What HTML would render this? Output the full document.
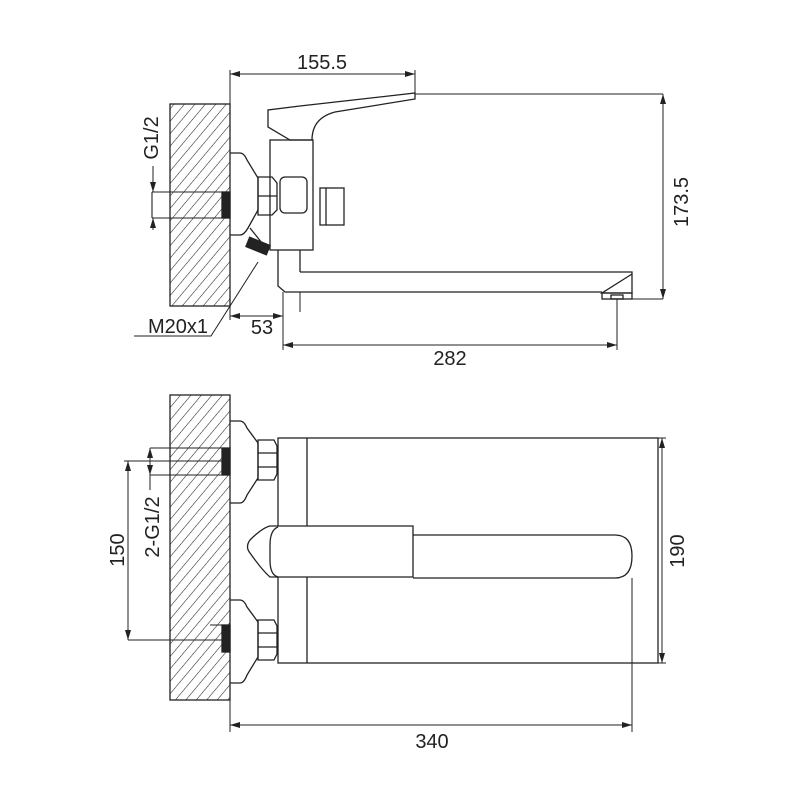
<!DOCTYPE html>
<html><head><style>html,body{margin:0;padding:0;background:#fff}svg{display:block}</style></head>
<body>
<svg width="800" height="800" viewBox="0 0 800 800" xmlns="http://www.w3.org/2000/svg" font-family="Liberation Sans, sans-serif">
<defs>
<pattern id="h" patternUnits="userSpaceOnUse" width="8" height="8" patternTransform="rotate(40)">
<line x1="0" y1="0" x2="0" y2="8" stroke="#222" stroke-width="1.1"/>
</pattern>
<marker id="a" viewBox="0 0 10 6" refX="10" refY="3" markerWidth="10" markerHeight="6" orient="auto-start-reverse" markerUnits="userSpaceOnUse"><path d="M0,0 L10,3 L0,6 Z" fill="#222"/></marker>
</defs>
<g fill="none" stroke="#222" stroke-width="1.3">
<!-- TOP VIEW -->
<rect x="170" y="104" width="60" height="202" fill="url(#h)"/>
<path d="M152,192 L224,192 M152,218 L224,218 M152,192 L152,218" stroke-width="1.1"/>
<rect x="222" y="192" width="8" height="26" fill="#222"/>
<path d="M230,153 L240,153 Q244,153 247,160 L258,178 L258,210 L248,228 Q244,235 240,235 L230,235"/>
<path d="M258,177 L272,177 L277,183 L277,210 L272,215 L258,215 Z M258,196 L277,196"/>
<rect x="270" y="140" width="43" height="110"/>
<rect x="280" y="177" width="27" height="36" rx="5"/>
<rect x="320" y="188" width="24" height="37"/><line x1="326" y1="188" x2="326" y2="225"/>
<path d="M268,110 L268,127 L290,140 L312,140 Q312,118 335,112 L415,99 L415,93 L300,106 L268,110 Z"/>
<line x1="415" y1="94" x2="663" y2="94" stroke-width="1"/>
<path d="M250,228 L262,243"/>
<rect x="247" y="241" width="22" height="10" fill="#222" transform="rotate(22 258 246)"/>
<path d="M278,250 L278,286 L285,292 L300,292 M300,272 L300,250"/>
<path d="M300,292 L300,312 M283,292 L283,350" stroke-width="1"/>
<path d="M300,272 L632,272 L632,293 L602,293 L632,274 M300,292 L602,292"/>
<rect x="602" y="293" width="30" height="6"/><rect x="611" y="295" width="12" height="4"/>
<line x1="632" y1="299" x2="663" y2="299" stroke-width="1"/>
<line x1="617" y1="299" x2="617" y2="350" stroke-width="1"/>
<g stroke-width="1">
<line x1="230" y1="70" x2="230" y2="320"/>
<line x1="415" y1="70" x2="415" y2="93"/>
<line x1="230" y1="74" x2="415" y2="74" marker-start="url(#a)" marker-end="url(#a)"/>
<line x1="663" y1="94" x2="663" y2="299" marker-start="url(#a)" marker-end="url(#a)"/>
<line x1="230" y1="316" x2="283" y2="316" marker-start="url(#a)" marker-end="url(#a)"/>
<line x1="283" y1="345" x2="617" y2="345" marker-start="url(#a)" marker-end="url(#a)"/>
<line x1="153" y1="166" x2="153" y2="192" marker-end="url(#a)"/>
<line x1="153" y1="230" x2="153" y2="218" marker-end="url(#a)"/>
<path d="M134,336 L211,336 L258,262"/>
</g>
<!-- BOTTOM VIEW -->
<rect x="170" y="395" width="60" height="305" fill="url(#h)"/>
<path d="M150,448 L224,448 M150,475 L224,475" stroke-width="1.1"/>
<rect x="222" y="448" width="8" height="27" fill="#222"/>
<path d="M210,625 L224,625 M128,640 L224,640" stroke-width="1.1"/>
<rect x="222" y="625" width="8" height="27" fill="#222"/>
<path d="M230,421 L240,421 Q244,421 247,428 L258,443 L258,478 L247,495 Q244,503 240,503 L230,503"/>
<path d="M230,600 L240,600 Q244,600 247,607 L258,622 L258,657 L247,675 Q244,683 240,683 L230,683"/>
<path d="M258,440 L274,440 L277,446 L277,474 L274,480 L258,480 Z M258,453 L277,453 M258,467 L277,467"/>
<path d="M258,620 L274,620 L277,626 L277,654 L274,660 L258,660 Z M258,633 L277,633 M258,647 L277,647"/>
<rect x="278" y="438" width="380" height="225"/>
<line x1="307" y1="438" x2="307" y2="663"/>
<path d="M413,535 L615,535 Q632,535 632,556 Q632,578 615,578 L413,578" fill="#fff"/>
<path d="M270,526 L413,526 L413,577 L270,577 Q262,570 250,553 Q245,547 250,540 Q262,528 270,526 Z" fill="#fff"/>
<path d="M278,527 Q270,530 270,545 L270,560 Q270,575 278,577"/>
<g stroke-width="1">
<line x1="658" y1="438" x2="666" y2="438"/><line x1="658" y1="663" x2="666" y2="663"/>
<line x1="662" y1="438" x2="662" y2="663" marker-start="url(#a)" marker-end="url(#a)"/>
<line x1="230" y1="700" x2="230" y2="732"/><line x1="632" y1="578" x2="632" y2="732"/>
<line x1="230" y1="725" x2="632" y2="725" marker-start="url(#a)" marker-end="url(#a)"/>
<line x1="124" y1="461" x2="222" y2="461"/>
<line x1="128" y1="461" x2="128" y2="640" marker-start="url(#a)" marker-end="url(#a)"/>
<line x1="150" y1="448" x2="150" y2="475" marker-start="url(#a)" marker-end="url(#a)"/>
<line x1="150" y1="475" x2="150" y2="490"/>
</g>
</g>
<g fill="#222" font-size="20">
<text x="322" y="69" text-anchor="middle">155.5</text>
<text x="262" y="334" text-anchor="middle">53</text>
<text x="450" y="365" text-anchor="middle">282</text>
<text x="208" y="333" text-anchor="end">M20x1</text>
<text transform="translate(158,138) rotate(-90)" text-anchor="middle">G1/2</text>
<text transform="translate(688,202) rotate(-90)" text-anchor="middle">173.5</text>
<text transform="translate(124,550) rotate(-90)" text-anchor="middle">150</text>
<text transform="translate(159,527) rotate(-90)" text-anchor="middle">2-G1/2</text>
<text transform="translate(684,551) rotate(-90)" text-anchor="middle">190</text>
<text x="432" y="748" text-anchor="middle">340</text>
</g>
</svg>
</body></html>
